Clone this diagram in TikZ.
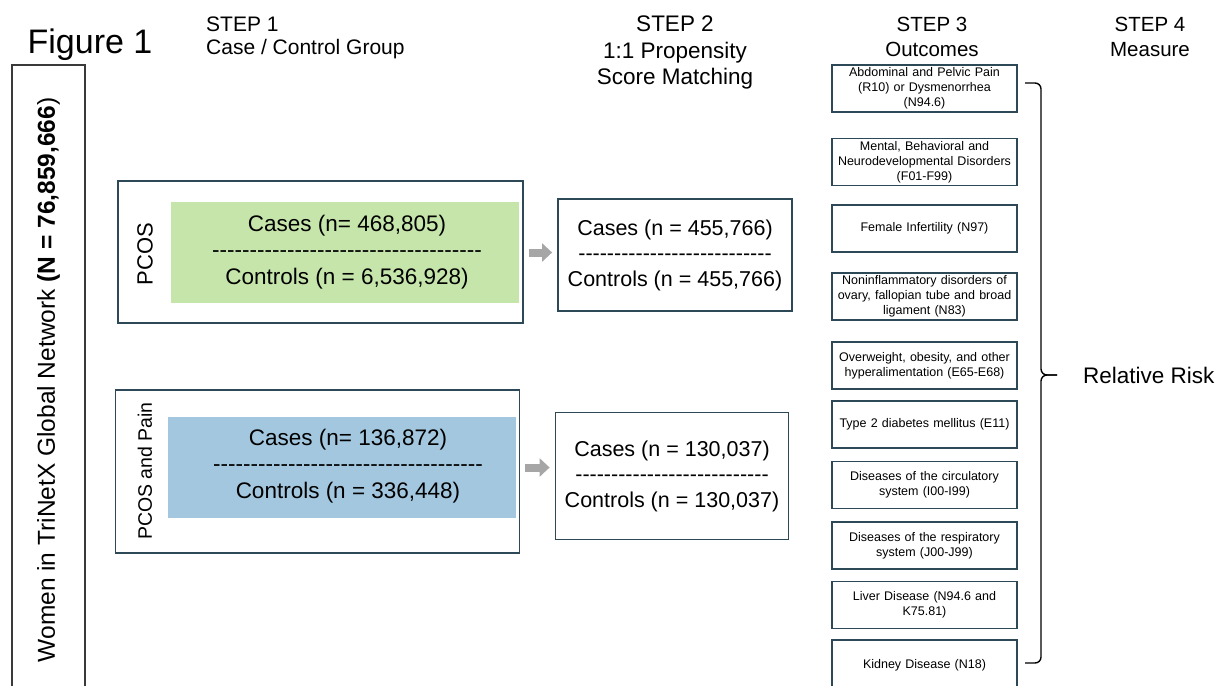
\documentclass[tikz,border=0pt]{standalone}
\usepackage{fontspec}
\setmainfont{Liberation Sans}
\usetikzlibrary{arrows.meta}

\definecolor{boxline}{HTML}{2D4857}
\definecolor{popline}{HTML}{3A3A3A}
\definecolor{casegreen}{HTML}{C6E5AA}
\definecolor{caseblue}{HTML}{A2C7DE}
\definecolor{arrowgrey}{HTML}{A6A6A6}

% row of hyphens, kerned so they stay hyphens
\newcommand\dashrow[1]{\foreach \k in {1,...,#1}{-\kern0pt}}

\begin{document}
\begin{tikzpicture}[x=1pt,y=-1pt,
    head text/.style={align=center,inner sep=0pt},
    group box/.style={draw=boxline,line width=1.8pt,inner sep=0pt},
    fill box/.style={fill=#1,inner sep=0pt,minimum width=348pt,minimum height=101pt},
    side label/.style={rotate=90,inner sep=0pt},
    count text/.style={align=center,inner sep=0pt,font=\fontsize{22.5}{26.5}\selectfont},
    outcome box/.style={draw=boxline,line width=1.8pt,align=center,text width=180pt,inner sep=2.5pt,minimum height=47pt,font=\fontsize{12.5}{15}\selectfont},
    block arrow/.style={draw=arrowgrey,line width=8pt,-{Triangle[length=10pt,width=18pt]},shorten <=5pt,shorten >=5pt}]

    \useasboundingbox (0,0) rectangle (1217,685);
    \clip (0,0) rectangle (1217,685);

    % titles
    \node[anchor=base,inner sep=0pt,font=\fontsize{34}{40}\selectfont] at (90,53) (fig) {Figure 1};
    \node[head text,anchor=north west,align=left,font=\fontsize{21}{23}\selectfont] at (206,17) (step1) {STEP 1\\Case / Control Group};
    \node[head text,anchor=north,font=\fontsize{22.5}{26.5}\selectfont] at (675,16) (step2) {STEP 2\\1:1 Propensity\\Score Matching};
    \node[head text,anchor=north,font=\fontsize{20.5}{25}\selectfont] at (932,17) (step3) {STEP 3\\Outcomes};
    \node[head text,anchor=north,font=\fontsize{20.5}{25}\selectfont] at (1150,17) (step4) {STEP 4\\Measure};

    % population
    \node[draw=popline,line width=2pt,rotate=90,minimum width=630pt,minimum height=73pt,font=\fontsize{24.5}{28}\selectfont] at (48.5,380) (pop) {Women in TriNetX Global Network \textbf{(N = 76,859,666})};

    % step 1
    \node[group box,minimum width=405pt,minimum height=142pt] at (320.5,252) (pcos) {};
    \node[fill box=casegreen] at (345,252.5) (pcosfill) {};
    \node[side label,font=\fontsize{22}{26}\selectfont] at (145,254) (pcoslabel) {PCOS};
    \node[count text] at (347,252) (pcoscount) {Cases (n= 468,805)\\\dashrow{36}\\Controls (n = 6,536,928)};

    \node[group box,minimum width=404pt,minimum height=163pt] at (317.5,471.5) (pain) {};
    \node[fill box=caseblue] at (341.5,467.5) (painfill) {};
    \node[side label,font=\fontsize{19.5}{23}\selectfont] at (145,471) (painlabel) {PCOS and Pain};
    \node[count text] at (348,466) (paincount) {Cases (n= 136,872)\\\dashrow{36}\\Controls (n = 336,448)};

    % step 2
    \node[group box,count text,font=\fontsize{21.5}{25.5}\selectfont,minimum width=234pt,minimum height=112pt] at (675,255) (match1) {Cases (n = 455,766)\\\dashrow{27}\\Controls (n = 455,766)};
    \node[group box,count text,font=\fontsize{21.5}{25.5}\selectfont,minimum width=233pt,minimum height=127pt] at (672,476) (match2) {Cases (n = 130,037)\\\dashrow{27}\\Controls (n = 130,037)};

    \draw[block arrow] (pcosfill.east -| pcos.east) -- (pcosfill.east -| match1.west);
    \draw[block arrow] (painfill.east -| pain.east) -- (painfill.east -| match2.west);

    % step 3
    \node[outcome box] at (924.5,88.5) (o1) {Abdominal and Pelvic Pain\\(R10) or Dysmenorrhea\\(N94.6)};
    \node[outcome box] at (924.5,162) (o2) {Mental, Behavioral and\\Neurodevelopmental Disorders\\(F01-F99)};
    \node[outcome box] at (924.5,228.5) (o3) {Female Infertility (N97)};
    \node[outcome box] at (924.5,296.5) (o4) {Noninflammatory disorders of\\ovary, fallopian tube and broad\\ligament (N83)};
    \node[outcome box] at (924.5,365.5) (o5) {Overweight, obesity, and other\\hyperalimentation (E65-E68)};
    \node[outcome box] at (924.5,424.5) (o6) {Type 2 diabetes mellitus (E11)};
    \node[outcome box] at (924.5,485) (o7) {Diseases of the circulatory\\system (I00-I99)};
    \node[outcome box] at (924.5,545.5) (o8) {Diseases of the respiratory\\system (J00-J99)};
    \node[outcome box] at (924.5,605) (o9) {Liver Disease (N94.6 and\\K75.81)};
    \node[outcome box,minimum height=50pt] at (924.5,665) (o10) {Kidney Disease (N18)};

    % step 4
    \coordinate (btop) at (1025,83);
    \coordinate (bbot) at (1025,663);
    \coordinate (btip) at (1057,375);
    \draw[line width=1.4pt,rounded corners=6pt] (btop) -- (1041,83) -- (1041,375) -- (btip);
    \draw[line width=1.4pt,rounded corners=6pt] (btip) -- (1041,375) -- (1041,663) -- (bbot);
    \node[anchor=west,inner sep=0pt,font=\fontsize{22.5}{27}\selectfont] at (1083,375) (rr) {Relative Risk};
\end{tikzpicture}
\end{document}
